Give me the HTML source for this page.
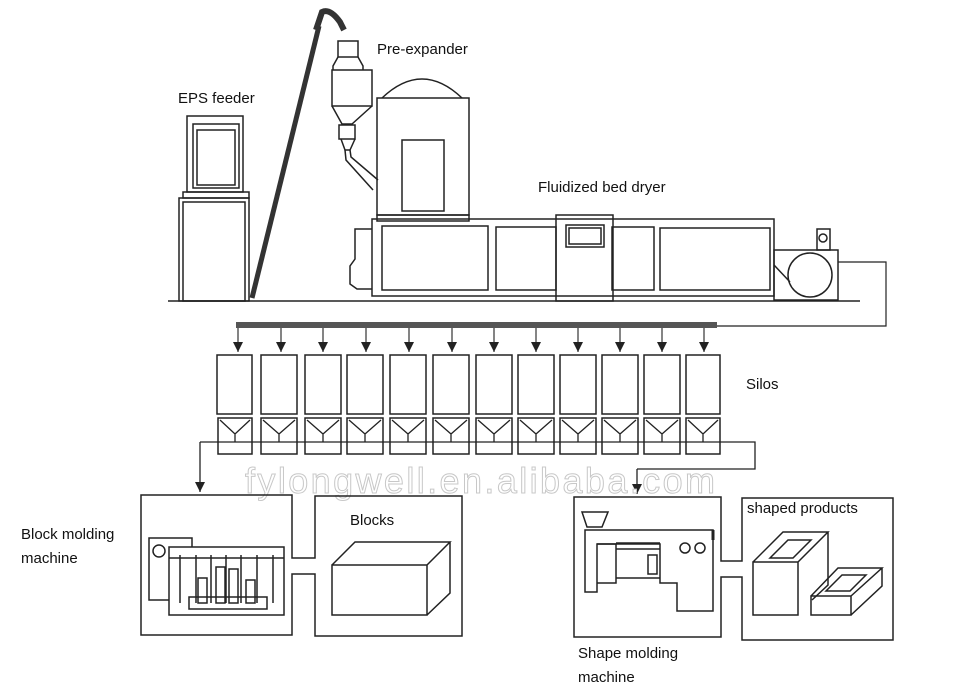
<!DOCTYPE html>
<html><head><style>
html,body{margin:0;padding:0;background:#fff;}
svg{display:block;}
text{font-family:"Liberation Sans",sans-serif;fill:#111;}
</style></head><body>
<svg width="960" height="694" viewBox="0 0 960 694" xmlns="http://www.w3.org/2000/svg">
<defs>
<marker id="ar" markerWidth="12" markerHeight="12" refX="10" refY="5" orient="auto" markerUnits="userSpaceOnUse">
<path d="M0,0 L10,5 L0,10 Z" fill="#222"/></marker>
</defs>
<g fill="none" stroke="#222" stroke-width="1.5">
<line x1="168" y1="301" x2="860" y2="301"/>
<rect x="187" y="116" width="56" height="76"/>
<rect x="193" y="124" width="46" height="64"/>
<rect x="197" y="130" width="38" height="55"/>
<rect x="183" y="192" width="66" height="6"/>
<rect x="179" y="198" width="70" height="103"/>
<rect x="183" y="202" width="62" height="99"/>
<path d="M252,298 L319,26" stroke="#333" stroke-width="5"/>
<path d="M316,30 L322,12 Q330,8 340,22 L344,30" stroke="#333" stroke-width="6"/>
<rect x="338" y="41" width="20" height="16"/>
<path d="M338,57 L333,66 L333,70 M358,57 L363,66 L363,70"/>
<rect x="332" y="70" width="40" height="36"/>
<path d="M332,106 L342,124 L352,124 L372,106"/>
<rect x="339" y="125" width="16" height="14"/>
<path d="M341,139 L345,150 L350,150 L355,139"/>
<path d="M345,150 L346,160 L373,190 M350,150 L351,157 L378,180"/>
<path d="M382,98 Q422,60 462,98"/>
<rect x="377" y="98" width="92" height="117"/>
<rect x="402" y="140" width="42" height="71"/>
<rect x="377" y="215" width="92" height="6"/>
<path d="M372,219 L774,219 L774,296 L372,296 Z"/>
<rect x="382" y="226" width="106" height="64"/>
<rect x="496" y="227" width="60" height="63"/>
<rect x="612" y="227" width="42" height="63"/>
<rect x="660" y="228" width="110" height="62"/>
<path d="M372,229 L355,229 L355,259 L350,266 L350,284 L357,289 L372,289"/>
<rect x="556" y="215" width="57" height="86"/>
<rect x="566" y="225" width="38" height="22"/>
<rect x="569" y="228" width="32" height="16"/>
<rect x="774" y="250" width="64" height="50"/>
<rect x="817" y="229" width="13" height="21"/>
<circle cx="823" cy="238" r="4"/>
<circle cx="810" cy="275" r="22"/>
<line x1="774" y1="265" x2="790" y2="282"/>
<path d="M838,262 L886,262 L886,326 L717,326" stroke-width="1.2"/>
</g>
<rect x="236" y="322" width="481" height="6" fill="#555"/>
<g stroke="#333" stroke-width="1.2" marker-end="url(#ar)">
<line x1="238" y1="328" x2="238" y2="352"/>
<line x1="281" y1="328" x2="281" y2="352"/>
<line x1="323" y1="328" x2="323" y2="352"/>
<line x1="366" y1="328" x2="366" y2="352"/>
<line x1="409" y1="328" x2="409" y2="352"/>
<line x1="452" y1="328" x2="452" y2="352"/>
<line x1="494" y1="328" x2="494" y2="352"/>
<line x1="536" y1="328" x2="536" y2="352"/>
<line x1="578" y1="328" x2="578" y2="352"/>
<line x1="620" y1="328" x2="620" y2="352"/>
<line x1="662" y1="328" x2="662" y2="352"/>
<line x1="704" y1="328" x2="704" y2="352"/>
</g>
<g fill="none" stroke="#222" stroke-width="1.5">
<rect x="217" y="355" width="35" height="59"/><rect x="261" y="355" width="36" height="59"/>
<rect x="305" y="355" width="36" height="59"/><rect x="347" y="355" width="36" height="59"/>
<rect x="390" y="355" width="36" height="59"/><rect x="433" y="355" width="36" height="59"/>
<rect x="476" y="355" width="36" height="59"/><rect x="518" y="355" width="36" height="59"/>
<rect x="560" y="355" width="36" height="59"/><rect x="602" y="355" width="36" height="59"/>
<rect x="644" y="355" width="36" height="59"/><rect x="686" y="355" width="34" height="59"/>
<rect x="218" y="418" width="34" height="36"/><rect x="261" y="418" width="36" height="36"/>
<rect x="305" y="418" width="36" height="36"/><rect x="347" y="418" width="36" height="36"/>
<rect x="390" y="418" width="36" height="36"/><rect x="433" y="418" width="36" height="36"/>
<rect x="476" y="418" width="36" height="36"/><rect x="518" y="418" width="36" height="36"/>
<rect x="560" y="418" width="36" height="36"/><rect x="602" y="418" width="36" height="36"/>
<rect x="644" y="418" width="36" height="36"/><rect x="686" y="418" width="34" height="36"/>
<path d="M220,420 L235,434 L250,420 M235,434 L235,442
M263,420 L279,434 L295,420 M279,434 L279,442
M307,420 L323,434 L339,420 M323,434 L323,442
M349,420 L365,434 L381,420 M365,434 L365,442
M392,420 L408,434 L424,420 M408,434 L408,442
M435,420 L451,434 L467,420 M451,434 L451,442
M478,420 L494,434 L510,420 M494,434 L494,442
M520,420 L536,434 L552,420 M536,434 L536,442
M562,420 L578,434 L594,420 M578,434 L578,442
M604,420 L620,434 L636,420 M620,434 L620,442
M646,420 L662,434 L678,420 M662,434 L662,442
M688,420 L703,434 L718,420 M703,434 L703,442" stroke-width="1.3"/>
<path d="M200,442 L755,442 L755,469 L637,469" stroke-width="1.3"/>
</g>
<g stroke="#222" stroke-width="1.3" marker-end="url(#ar)" fill="none">
<line x1="200" y1="442" x2="200" y2="492"/>
<line x1="637" y1="469" x2="637" y2="494"/>
</g>
<text x="480" y="493" text-anchor="middle" font-size="36" textLength="470" style="fill:#fff;stroke:#c8c8c8;stroke-width:1">fylongwell.en.alibaba.com</text>
<g fill="none" stroke="#222" stroke-width="1.5">
<path d="M292,558 L292,495 L141,495 L141,635 L292,635 L292,574 L315,574 L315,636 L462,636 L462,496 L315,496 L315,558 Z"/>
<rect x="149" y="538" width="43" height="62"/>
<circle cx="159" cy="551" r="6"/>
<rect x="169" y="547" width="115" height="68" fill="#fff"/>
<line x1="169" y1="558" x2="284" y2="558"/>
<path d="M180,555 L180,603 M196,555 L196,603 M211,555 L211,603 M226,555 L226,603 M241,555 L241,603 M257,555 L257,603 M273,555 L273,603"/>
<rect x="198" y="578" width="9" height="25"/><rect x="216" y="567" width="9" height="36"/>
<rect x="229" y="569" width="9" height="34"/><rect x="246" y="580" width="9" height="23"/>
<rect x="189" y="597" width="78" height="12"/>
<path d="M332,565 L427,565 L427,615 L332,615 Z M332,565 L355,542 L450,542 L427,565 M450,542 L450,593 L427,615"/>
<path d="M721,561 L721,497 L574,497 L574,637 L721,637 L721,577 L742,577 L742,640 L893,640 L893,498 L742,498 L742,561 Z"/>
<path d="M582,512 L608,512 L602,527 L587,527 Z"/>
<path d="M585,530 L713,530 L713,611 L677,611 L677,583 L660,583 L660,544 L597,544 L597,592 L585,592 Z"/>
<path d="M597,544 L616,544 L616,583 L597,583 M616,543 L660,543 M616,549 L660,549 M616,578 L660,578"/>
<rect x="648" y="555" width="9" height="19"/>
<line x1="713" y1="530" x2="713" y2="540" stroke-width="3"/>
<circle cx="685" cy="548" r="5"/><circle cx="700" cy="548" r="5"/>
<path d="M753,562 L798,562 L798,615 L753,615 Z M753,562 L783,532 L828,532 L798,562 M828,532 L828,585 L812,600"/>
<path d="M770,558 L788,540 L811,540 L793,558 Z"/>
<path d="M811,596 L851,596 L851,615 L811,615 Z M811,596 L838,568 L882,568 L851,596 M882,568 L882,586 L851,615"/>
<path d="M826,591 L842,575 L866,575 L850,591 Z"/>
</g>
<text x="377" y="54" font-size="15">Pre-expander</text>
<text x="178" y="103" font-size="15">EPS feeder</text>
<text x="538" y="192" font-size="15">Fluidized bed dryer</text>
<text x="746" y="389" font-size="15">Silos</text>
<text x="21" y="539" font-size="15">Block molding</text>
<text x="21" y="563" font-size="15">machine</text>
<text x="350" y="525" font-size="15">Blocks</text>
<text x="747" y="513" font-size="15">shaped products</text>
<text x="578" y="658" font-size="15">Shape molding</text>
<text x="578" y="682" font-size="15">machine</text>
</svg>
</body></html>
